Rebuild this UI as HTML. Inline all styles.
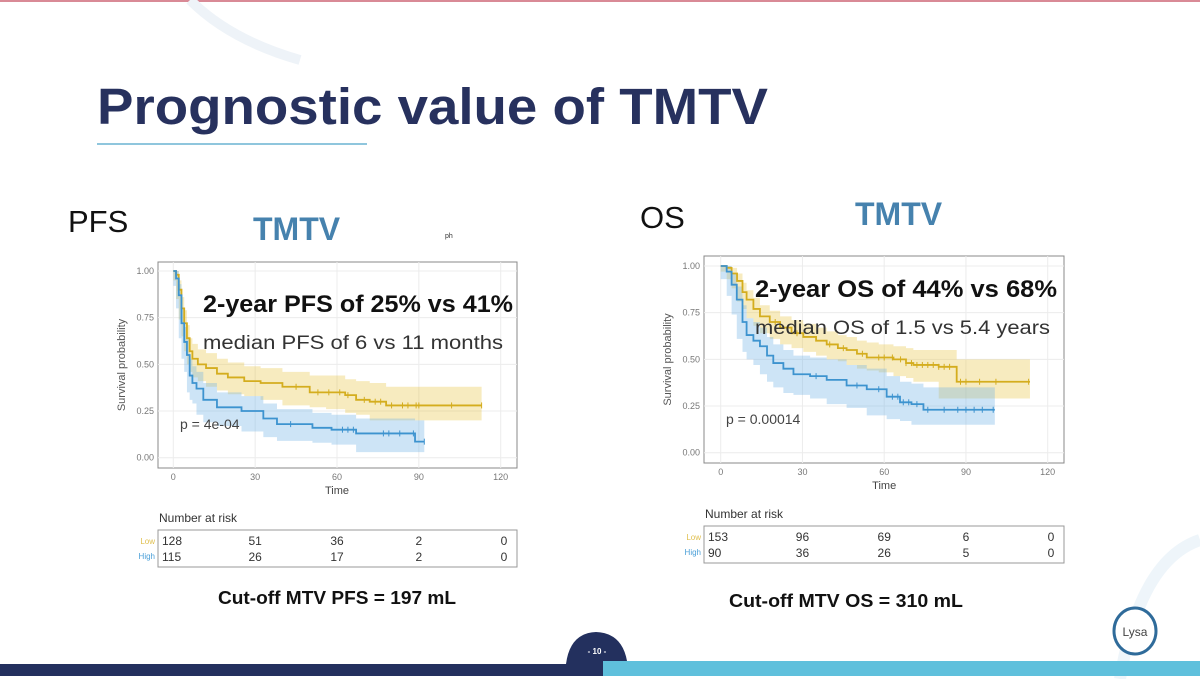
<!DOCTYPE html>
<html><head><meta charset="utf-8">
<style>
html,body{margin:0;padding:0;background:#fff;}
svg{display:block;font-family:"Liberation Sans",sans-serif;}
</style></head>
<body>
<svg id="s" width="1200" height="679" viewBox="0 0 1200 679">
<rect x="0" y="0" width="1200" height="679" fill="#fff"/>
<rect x="0" y="0" width="1200" height="2" fill="#d98a96"/>
<path d="M190,0 Q230,40 300,60" stroke="#eef3f8" stroke-width="10" fill="none"/>
<path d="M1120,679 Q1140,560 1200,540" stroke="#eef5fa" stroke-width="12" fill="none"/>
<text x="97" y="124" font-size="51" font-weight="bold" fill="#27315e" textLength="671" lengthAdjust="spacingAndGlyphs">Prognostic value of TMTV</text>
<rect x="97" y="143" width="270" height="2" fill="#8fc6dd"/>
<text x="68" y="232" font-size="31" fill="#111">PFS</text>
<text x="253" y="240" font-size="32" font-weight="bold" fill="#4682ae">TMTV</text>
<text x="445" y="238" font-size="7" fill="#333">ph</text>
<text x="640" y="228" font-size="31" fill="#111">OS</text>
<text x="855" y="225" font-size="32" font-weight="bold" fill="#4682ae">TMTV</text>
<g id="left"></g>
<g id="right"></g>
<text x="218" y="604" font-size="18" font-weight="bold" textLength="238" lengthAdjust="spacingAndGlyphs" fill="#111">Cut-off MTV PFS = 197 mL</text>
<text x="729" y="607" font-size="18" font-weight="bold" textLength="234" lengthAdjust="spacingAndGlyphs" fill="#111">Cut-off MTV OS = 310 mL</text>
<rect x="0" y="664" width="603" height="12" fill="#23305e"/>
<rect x="603" y="661" width="597" height="15" fill="#5fc0dc"/>
<path d="M566,664 Q570,633 596,632 Q622,633 627,661 L603,661 L603,664 Z" fill="#23305e"/>
<text x="597" y="654" font-size="8" font-weight="bold" fill="#fff" text-anchor="middle">- 10 -</text>
<ellipse cx="1135" cy="631" rx="21" ry="23" fill="#fff" stroke="#2f6b9a" stroke-width="3"/>
<text x="1135" y="636" font-size="12" fill="#444" text-anchor="middle">Lysa</text>
</svg>
<script>
// PFS data
const pfsLowT=[0,1,2,3,4,5,6,7,9,12,16,20,26,32,40,50,56,63,67,72,78,113];
const pfsLowS=[1,0.98,0.9,0.8,0.72,0.64,0.57,0.53,0.5,0.48,0.45,0.43,0.41,0.4,0.38,0.35,0.35,0.335,0.31,0.3,0.28,0.28];
const pfsLowLo=[1,0.95,0.85,0.74,0.65,0.57,0.5,0.46,0.43,0.41,0.38,0.36,0.34,0.33,0.31,0.28,0.27,0.26,0.24,0.23,0.2,0.2];
const pfsLowHi=[1,1,0.95,0.86,0.79,0.71,0.64,0.61,0.58,0.56,0.53,0.51,0.49,0.48,0.46,0.44,0.44,0.42,0.41,0.4,0.38,0.38];
const pfsHighT=[0,1,2,3,4,5,6,7,8.5,11,16,25,33,38,51,58,67,88.6,92];
const pfsHighS=[1,0.96,0.87,0.72,0.62,0.55,0.44,0.4,0.37,0.31,0.27,0.25,0.21,0.18,0.16,0.15,0.13,0.086,0.086];
const pfsHighLo=[1,0.92,0.8,0.64,0.53,0.46,0.35,0.31,0.29,0.23,0.19,0.17,0.14,0.11,0.09,0.08,0.07,0.03,0.03];
const pfsHighHi=[1,1,0.93,0.8,0.7,0.64,0.53,0.49,0.46,0.4,0.35,0.33,0.29,0.26,0.24,0.23,0.21,0.2,0.2];
const pfsLowCens=[45,53,57,61,64,70,74,76,80,84,86,89,90,102,113];
const pfsHighCens=[43,62,64,66,77,79,83,88,92];
// OS data
const osLowT=[0,2.2,4,6,8,9.5,12,14.4,18,21.8,26,30.3,35,38.9,43,46.2,50,53.6,58,63.4,68,70.7,80,86.6,113.5];
const osLowS=[1,0.99,0.96,0.92,0.86,0.82,0.77,0.73,0.7,0.67,0.64,0.62,0.6,0.58,0.56,0.55,0.53,0.51,0.51,0.5,0.48,0.47,0.46,0.38,0.38];
const osLowLo=[1,0.97,0.93,0.88,0.81,0.77,0.72,0.68,0.64,0.61,0.58,0.56,0.54,0.52,0.5,0.49,0.47,0.45,0.44,0.43,0.41,0.4,0.38,0.29,0.29];
const osLowHi=[1,1,0.99,0.96,0.91,0.87,0.83,0.79,0.76,0.73,0.71,0.69,0.67,0.65,0.63,0.62,0.6,0.59,0.58,0.57,0.56,0.55,0.55,0.5,0.5];
const osHighT=[0,2.2,4,5.9,8,9.5,12,14.4,17,19.3,23,26.7,32.8,38.9,46.2,53.6,60.9,65.8,70,74.4,100.6];
const osHighS=[1,0.97,0.9,0.82,0.7,0.63,0.6,0.57,0.52,0.48,0.45,0.42,0.41,0.39,0.36,0.34,0.3,0.27,0.26,0.23,0.23];
const osHighLo=[1,0.93,0.84,0.74,0.61,0.54,0.5,0.47,0.42,0.38,0.35,0.32,0.31,0.29,0.26,0.24,0.2,0.18,0.17,0.15,0.15];
const osHighHi=[1,1,0.96,0.89,0.79,0.72,0.7,0.67,0.62,0.58,0.55,0.52,0.51,0.5,0.47,0.45,0.41,0.38,0.37,0.35,0.35];
const osLowCens=[20,28,40,45,52,58,60,63,66,68,70,72,74,76,78,80,82,84,88,90,95,101,113];
const osHighCens=[35,50,58,63,65,67,69,72,76,82,87,90,93,96,100];
const xTicks=[0,30,60,90,120];
const yTicks=[0,0.25,0.5,0.75,1];
const yTickLabels=["0.00","0.25","0.50","0.75","1.00"];
const riskTimes=[0,30,60,90,120];
const pfsRiskLow=[128,51,36,2,0];
const pfsRiskHigh=[115,26,17,2,0];
const osRiskLow=[153,96,69,6,0];
const osRiskHigh=[90,36,26,5,0];

const NS="http://www.w3.org/2000/svg";
function mk(tag,attrs,parent){const e=document.createElementNS(NS,tag);for(const k in attrs)e.setAttribute(k,attrs[k]);parent.appendChild(e);return e;}
function stepPath(T,S,sx,sy){let d="M"+sx(T[0])+","+sy(S[0]);for(let i=1;i<T.length;i++){d+=" H"+sx(T[i])+" V"+sy(S[i]);}return d;}
function bandPath(T,L,H,sx,sy){let d="M"+sx(T[0])+","+sy(H[0]);for(let i=1;i<T.length;i++){d+=" H"+sx(T[i])+" V"+sy(H[i]);}
 d+=" V"+sy(L[L.length-1]);for(let i=T.length-1;i>0;i--){d+=" V"+sy(L[i])+" H"+sx(T[i-1]);}d+=" V"+sy(L[0])+"Z";return d;}
function survAt(T,S,t){let v=S[0];for(let i=0;i<T.length;i++){if(T[i]<=t)v=S[i];}return v;}

function chart(g,o){
 const sx=t=>o.x0+(t/120)*(o.x120-o.x0);
 const sy=v=>o.y0+(v)*(o.y1-o.y0);
 const pr=mk("rect",{x:o.pl,y:o.pt,width:o.pr-o.pl,height:o.pb-o.pt,fill:"#fff",stroke:"#888","stroke-width":1},g);
 
 for(let i=0;i<xTicks.length;i++){
  const l=mk("line",{x1:sx(xTicks[i]),x2:sx(xTicks[i]),y1:o.pt,y2:o.pb,stroke:"#ececec"},g);
  
  const t=mk("text",{x:sx(xTicks[i]),y:o.pb+12,"font-size":9,fill:"#777","text-anchor":"middle"},g);t.textContent=xTicks[i];
  
 }
 for(let i=0;i<yTicks.length;i++){
  const l=mk("line",{x1:o.pl,x2:o.pr,y1:sy(yTicks[i]),y2:sy(yTicks[i]),stroke:"#ececec"},g);
  
  const t=mk("text",{x:o.pl-4,y:sy(yTicks[i])+3,"font-size":9,fill:"#777","text-anchor":"end"},g);t.textContent=yTickLabels[i];
  
 }
 const xt=mk("text",{x:(sx(60)),y:o.pb+26,"font-size":11,fill:"#444","text-anchor":"middle"},g);xt.textContent="Time";
 
 const yt=mk("text",{x:0,y:0,"font-size":11,fill:"#555","text-anchor":"middle",transform:"translate("+(o.pl-33)+","+((o.pt+o.pb)/2)+") rotate(-90)"},g);yt.textContent="Survival probability";
 
 const b1=mk("path",{d:bandPath(o.lowT,o.lowLo,o.lowHi,sx,sy),fill:"#e8c547","fill-opacity":0.35},g);
 
 const b2=mk("path",{d:bandPath(o.highT,o.highLo,o.highHi,sx,sy),fill:"#6fb1e4","fill-opacity":0.35},g);
 
 const l1=mk("path",{d:stepPath(o.lowT,o.lowS,sx,sy),fill:"none",stroke:"#d4ad1e","stroke-width":1.8},g);
 
 const l2=mk("path",{d:stepPath(o.highT,o.highS,sx,sy),fill:"none",stroke:"#3d93cf","stroke-width":1.8},g);
 
 o.lowC.forEach(t=>{const c=mk("line",{x1:sx(t),x2:sx(t),y1:sy(survAt(o.lowT,o.lowS,t))-3,y2:sy(survAt(o.lowT,o.lowS,t))+3,stroke:"#d4ad1e"},g);});
 o.highC.forEach(t=>{const c=mk("line",{x1:sx(t),x2:sx(t),y1:sy(survAt(o.highT,o.highS,t))-3,y2:sy(survAt(o.highT,o.highS,t))+3,stroke:"#3d93cf"},g);});
 const p=mk("text",{x:o.px,y:o.py,"font-size":14,fill:"#444"},g);p.textContent=o.ptext;
 
 const h=mk("text",{x:o.hx,y:o.hy,"font-size":24,"font-weight":"bold",fill:"#111",textLength:o.hl,lengthAdjust:"spacingAndGlyphs"},g);h.textContent=o.head;
 
 const m=mk("text",{x:o.hx,y:o.hy+37,"font-size":19,fill:"#333",textLength:o.ml,lengthAdjust:"spacingAndGlyphs"},g);m.textContent=o.med;
 
 const nr=mk("text",{x:o.pl+1,y:o.ry-8,"font-size":12,fill:"#333"},g);nr.textContent="Number at risk";
 
 const rb=mk("rect",{x:o.pl,y:o.ry,width:o.pr-o.pl,height:37,fill:"#fff",stroke:"#999"},g);
 
 const ll=mk("text",{x:o.pl-3,y:o.ry+14,"font-size":8,fill:"#e0c050","text-anchor":"end"},g);ll.textContent="Low";
 
 const hl=mk("text",{x:o.pl-3,y:o.ry+29,"font-size":8,fill:"#4a9fd8","text-anchor":"end"},g);hl.textContent="High";
 
 for(let i=0;i<riskTimes.length;i++){
  let x=sx(riskTimes[i]);let anc="middle";
  if(i===0){x=o.pl+4;anc="start";} if(i===riskTimes.length-1){x=o.pr-13;}
  const a=mk("text",{x:x,y:o.ry+15,"font-size":12,fill:"#333","text-anchor":anc},g);a.textContent=o.rl[i];
  
  const b=mk("text",{x:x,y:o.ry+31,"font-size":12,fill:"#333","text-anchor":anc},g);b.textContent=o.rh[i];
  
 }
}
chart(document.getElementById("left"),{pl:158,pr:517,pt:262,pb:468,x0:173.3,x120:500.7,y0:457.7,y1:271,
 lowT:pfsLowT,lowS:pfsLowS,lowLo:pfsLowLo,lowHi:pfsLowHi,highT:pfsHighT,highS:pfsHighS,highLo:pfsHighLo,highHi:pfsHighHi,
 lowC:pfsLowCens,highC:pfsHighCens,px:180,py:429,ptext:"p = 4e-04",hx:203,hy:312,hl:310,ml:300,head:"2-year PFS of 25% vs 41%",med:"median PFS of 6 vs 11 months",
 ry:530,rl:pfsRiskLow,rh:pfsRiskHigh});
chart(document.getElementById("right"),{pl:704,pr:1064,pt:256,pb:463,x0:720.7,x120:1047.7,y0:452.7,y1:266,
 lowT:osLowT,lowS:osLowS,lowLo:osLowLo,lowHi:osLowHi,highT:osHighT,highS:osHighS,highLo:osHighLo,highHi:osHighHi,
 lowC:osLowCens,highC:osHighCens,px:726,py:424,ptext:"p = 0.00014",hx:755,hy:297,hl:302,ml:295,head:"2-year OS of 44% vs 68%",med:"median OS of 1.5 vs 5.4 years",
 ry:526,rl:osRiskLow,rh:osRiskHigh});
</script>
</body></html>
